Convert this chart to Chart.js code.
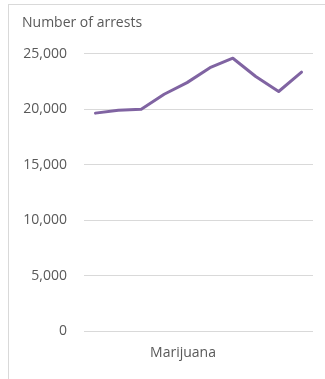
<!DOCTYPE html>
<html>
<head>
<meta charset="utf-8">
<script src="https://cdn.jsdelivr.net/npm/chart.js@4/dist/chart.umd.min.js"></script>
<style>
  html, body { margin: 0; padding: 0; background: #fff; }
  #wrap { position: relative; width: 325px; height: 379px; overflow: hidden; }
  /* marco del gráfico, recortado a la derecha y abajo */
  #frame { position: absolute; left: 8px; top: 4px; width: 400px; height: 400px;
           border-top: 1px solid #d9d9d9; border-left: 1px solid #d9d9d9; }
  #cv { position: absolute; left: 0; top: 0; }
  #xlbl { position: absolute; left: 0; width: 366px; top: 342px; text-align: center;
          font: 14px "Open Sans", sans-serif; color: #595959; }
</style>
</head>
<body>
<div id="wrap">
  <div id="frame"></div>
  <canvas id="cv" width="325" height="379"></canvas>
  <div id="xlbl">Marijuana</div>
</div>
<script>
/* datos */
const periods  = ['1', '2', '3', '4', '5', '6', '7', '8', '9', '10'];
const arrests  = [19650, 19900, 20000, 21350, 22400, 23750, 24600, 22950, 21600, 23350];
const yTicks   = [0, 5000, 10000, 15000, 20000, 25000];
const titleTxt = 'Number of arrests';

const purple = '#8064a2', txt = '#595959', grid = '#d9d9d9';
const font = { family: '"Open Sans", sans-serif', size: 14 };

new Chart(document.getElementById('cv'), {
  type: 'line',
  data: {
    labels: periods,
    datasets: [{ label: 'Marijuana', data: arrests, borderColor: purple, borderWidth: 3,
                 borderJoinStyle: 'round', borderCapStyle: 'round', pointRadius: 0, tension: 0, fill: false }],
  },
  options: {
    responsive: false, animation: false,
    layout: { padding: { left: 22, right: 12, top: 0, bottom: 48 } },
    plugins: {
      legend: { display: false }, tooltip: { enabled: false },
      title: { display: true, text: titleTxt, align: 'start', color: txt,
               font: { ...font, weight: 'normal' }, padding: { top: 15, bottom: 22 } },
    },
    scales: {
      x: { offset: true, ticks: { display: false }, grid: { display: false, drawTicks: false }, border: { display: false } },
      y: {
        min: yTicks[0], max: yTicks[yTicks.length - 1],
        afterBuildTicks: s => { s.ticks = yTicks.map(v => ({ value: v })); },
        afterFit: s => { s.width = 62; },
        ticks: { color: txt, font, padding: 17, callback: v => v.toLocaleString('en-US') },
        grid: { color: grid, lineWidth: 1, drawTicks: false }, border: { display: false },
      },
    },
  },
});
</script>
</body>
</html>
